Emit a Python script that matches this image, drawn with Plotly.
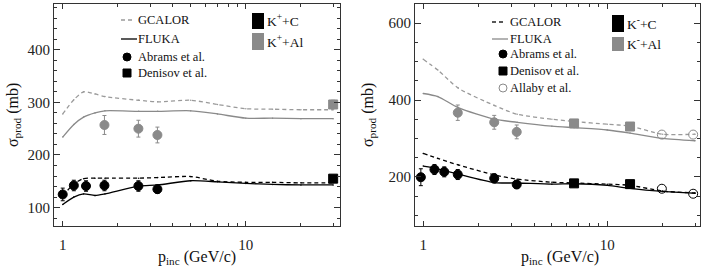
import plotly.graph_objects as go

# ---------------- data: K+ (left panel) ----------------
p_model_kp = [1.0, 1.15, 1.3, 1.5, 1.7, 2.6, 3.3, 5.0, 7.0, 10.0, 14.0, 20.0, 30.0]
gcalor_kp_c = [122, 145, 155, 156, 156, 156, 157, 159, 150, 148, 148, 147, 147]
fluka_kp_c = [106, 120, 126, 123, 126, 141, 143, 151, 149, 146, 144, 143, 143]
gcalor_kp_al = [278, 305, 320, 316, 311, 304, 301, 304, 296, 288, 287, 286, 286]
fluka_kp_al = [234, 258, 272, 280, 284, 283, 283, 284, 278, 270, 270, 269, 269]

abrams_kp_p = [1.0, 1.15, 1.34, 1.69, 2.59, 3.29]
abrams_kp_c = [125, 142, 141, 142, 141, 135]
abrams_kp_c_err = [12, 10, 10, 10, 10, 8]
abrams_kp_al_p = [1.69, 2.59, 3.29]
abrams_kp_al = [257, 250, 238]
abrams_kp_al_err = [18, 16, 15]
denisov_kp_p = [30.0]
denisov_kp_c = [155]
denisov_kp_c_err = [5]
denisov_kp_al = [296]
denisov_kp_al_err = [8]

# ---------------- data: K- (right panel) ----------------
p_model_km = [1.0, 1.2, 1.55, 2.43, 3.24, 5.0, 6.6, 10.0, 13.3, 20.0, 30.0]
gcalor_km_al = [506, 478, 431, 386, 363, 350, 344, 337, 332, 311, 311]
fluka_km_al = [417, 409, 380, 350, 342, 332, 328, 322, 314, 300, 294]
gcalor_km_c = [261, 248, 231, 205, 194, 186, 184, 181, 178, 163, 158]
fluka_km_c = [228, 221, 207, 185, 184, 181, 182, 178, 170, 162, 157]

abrams_km_p = [0.97, 1.15, 1.30, 1.54, 2.43, 3.22]
abrams_km_c = [199, 219, 213, 206, 196, 180]
abrams_km_c_err = [22, 13, 13, 13, 12, 10]
abrams_km_al_p = [1.54, 2.43, 3.22]
abrams_km_al = [367, 342, 317]
abrams_km_al_err = [20, 18, 18]
denisov_km_p = [6.6, 13.3]
denisov_km_c = [183, 181]
denisov_km_al = [339, 331]
allaby_km_p = [19.8, 29.3]
allaby_km_c = [169, 156]
allaby_km_al = [310, 310]

BLACK = "#000000"
GREY = "#8a8a8a"
LGREY = "#9a9a9a"
FONT = "'Liberation Serif', 'Times New Roman', Times, serif"
DASH = "4px,3px"

fig = go.Figure()


def model(x, y, color, dash, xa, ya, width=1.3):
    fig.add_trace(go.Scatter(
        x=x, y=y, mode="lines+markers", xaxis=xa, yaxis=ya,
        line=dict(color=color, width=width, dash=dash, shape="spline", smoothing=0.7),
        marker=dict(size=1.5, color=color), showlegend=False, hoverinfo="skip"))


def data(x, y, err, color, symbol, xa, ya, size=9):
    fig.add_trace(go.Scatter(
        x=x, y=y, mode="markers", xaxis=xa, yaxis=ya,
        marker=dict(size=size, color=color, symbol=symbol, line=dict(width=1, color=color)),
        error_y=dict(type="data", array=err, visible=err is not None, color=color,
                     thickness=1, width=2),
        showlegend=False))


# left panel
model(p_model_kp, gcalor_kp_al, LGREY, DASH, "x", "y")
model(p_model_kp, fluka_kp_al, GREY, "solid", "x", "y")
model(p_model_kp, gcalor_kp_c, BLACK, DASH, "x", "y")
model(p_model_kp, fluka_kp_c, BLACK, "solid", "x", "y")
data(abrams_kp_p, abrams_kp_c, abrams_kp_c_err, BLACK, "circle", "x", "y")
data(abrams_kp_al_p, abrams_kp_al, abrams_kp_al_err, GREY, "circle", "x", "y")
data(denisov_kp_p, denisov_kp_c, denisov_kp_c_err, BLACK, "square", "x", "y")
data(denisov_kp_p, denisov_kp_al, denisov_kp_al_err, GREY, "square", "x", "y")

# right panel
model(p_model_km, gcalor_km_al, LGREY, DASH, "x2", "y2")
model(p_model_km, fluka_km_al, GREY, "solid", "x2", "y2")
model(p_model_km, gcalor_km_c, BLACK, DASH, "x2", "y2")
model(p_model_km, fluka_km_c, BLACK, "solid", "x2", "y2")
data(abrams_km_p, abrams_km_c, abrams_km_c_err, BLACK, "circle", "x2", "y2")
data(abrams_km_al_p, abrams_km_al, abrams_km_al_err, GREY, "circle", "x2", "y2")
data(denisov_km_p, denisov_km_c, None, BLACK, "square", "x2", "y2")
data(denisov_km_p, denisov_km_al, None, GREY, "square", "x2", "y2")
data(allaby_km_p, allaby_km_c, None, BLACK, "circle-open", "x2", "y2")
data(allaby_km_p, allaby_km_al, None, GREY, "circle-open", "x2", "y2")

# ---------------- layout ----------------
W, H = 705, 273
YT, YB = 4, 226
LX0, LX1 = 54, 340
RX0, RX1 = 415, 700
dom_y = [1 - YB / H, 1 - YT / H]

minor_x = [2, 3, 4, 5, 6, 7, 8, 9, 20, 30]
axcol = "#333333"


def xaxis(x0, x1, rng, anchor):
    return dict(domain=[x0 / W, x1 / W], type="log", range=rng, anchor=anchor,
                tickmode="array", tickvals=[1, 10], ticktext=["1", "10"],
                ticks="inside", ticklen=5, tickcolor=axcol, mirror="allticks",
                ticklabelstandoff=5,
                showline=True, linecolor=axcol, linewidth=1, showgrid=False,
                zeroline=False, tickfont=dict(family=FONT, size=15, color="#222"),
                minor=dict(tickmode="array", tickvals=minor_x, ticks="inside",
                           ticklen=3, tickcolor=axcol, showgrid=False))


def yaxis(rng, dtick, mdt, anchor):
    return dict(domain=dom_y, range=rng, anchor=anchor, dtick=dtick, tick0=0,
                ticks="inside", ticklen=6, tickcolor=axcol, mirror="allticks",
                showline=True, linecolor=axcol, linewidth=1, showgrid=False,
                zeroline=False, tickfont=dict(family=FONT, size=15, color="#222"),
                minor=dict(dtick=mdt, tick0=0, ticks="inside", ticklen=3,
                           tickcolor=axcol, showgrid=False))


fig.update_layout(
    width=W, height=H, margin=dict(l=0, r=0, t=0, b=0),
    paper_bgcolor="white", plot_bgcolor="white", showlegend=False,
    font=dict(family=FONT),
    xaxis=xaxis(LX0, LX1, [-0.0477, 1.5145], "y"),
    yaxis=yaxis([65, 487], 100, 20, "x"),
    xaxis2=xaxis(RX0, RX1, [-0.045, 1.504], "y2"),
    yaxis2=yaxis([72, 650], 200, 50, "x2"),
)

shapes = []
annots = []


def px2dom(px, py, x0, x1):
    return (px - x0) / (x1 - x0), (YB - py) / (YB - YT)


def legend(panel, items, boxes):
    x0, x1 = (LX0, LX1) if panel == 1 else (RX0, RX1)
    xr = "x domain" if panel == 1 else "x2 domain"
    yr = "y domain" if panel == 1 else "y2 domain"
    for kind, label, color, cx, cy, tx in items:
        if kind in ("dash", "solid"):
            a, b = px2dom(cx[0], cy, x0, x1)
            c, _ = px2dom(cx[1], cy, x0, x1)
            shapes.append(dict(type="line", xref=xr, yref=yr, x0=a, x1=c, y0=b, y1=b,
                               line=dict(color=color, width=1.3, dash=DASH if kind == "dash" else "solid")))
        else:
            r = 4
            a, b = px2dom(cx - r, cy + r, x0, x1)
            c, d = px2dom(cx + r, cy - r, x0, x1)
            shapes.append(dict(type="circle" if kind != "square" else "rect", xref=xr, yref=yr,
                               x0=a, x1=c, y0=b, y1=d,
                               fillcolor=None if kind == "open" else color,
                               line=dict(color=color, width=1)))
        tx_, ty_ = px2dom(tx, cy, x0, x1)
        annots.append(dict(xref=xr, yref=yr, x=tx_, y=ty_, text=label, showarrow=False,
                           xanchor="left", yanchor="middle",
                           font=dict(family=FONT, size=12.5, color="#111")))
    for label, color, bx0, bx1, by0, by1 in boxes:
        a, b = px2dom(bx0, by1, x0, x1)
        c, d = px2dom(bx1, by0, x0, x1)
        shapes.append(dict(type="rect", xref=xr, yref=yr, x0=a, x1=c, y0=b, y1=d,
                           fillcolor=color, line=dict(width=0)))
        tx_, ty_ = px2dom(bx1 + 1, (by0 + by1) / 2, x0, x1)
        annots.append(dict(xref=xr, yref=yr, x=tx_, y=ty_, text=label, showarrow=False,
                           xanchor="left", yanchor="middle",
                           font=dict(family=FONT, size=13.5, color="#111")))


legend(1, [
    ("dash", "GCALOR", LGREY, (121, 134), 20, 136),
    ("solid", "FLUKA", BLACK, (121, 137), 39, 136),
    ("circle", "Abrams et al.", BLACK, 127, 57, 136),
    ("square", "Denisov et al.", BLACK, 127, 73, 136),
], [
    ("K<sup>+</sup>+C", BLACK, 252, 264, 13, 29),
    ("K<sup>+</sup>+Al", GREY, 252, 264, 33, 50),
])

legend(2, [
    ("dash", "GCALOR", "#222", (492, 505), 22, 508),
    ("solid", "FLUKA", GREY, (492, 508), 39, 508),
    ("circle", "Abrams et al.", BLACK, 503, 54, 508),
    ("square", "Denisov et al.", BLACK, 503, 71, 508),
    ("open", "Allaby et al.", GREY, 503, 88, 508),
], [
    ("K<sup>-</sup>+C", BLACK, 612, 624, 15, 32),
    ("K<sup>-</sup>+Al", GREY, 612, 624, 37, 51),
])

# axis titles
for cx in (13, 368):
    annots.append(dict(xref="paper", yref="paper", x=cx / W, y=1 - 115 / H,
                       text="σ<sub>prod</sub> (mb)", textangle=-90, showarrow=False,
                       xanchor="center", yanchor="middle",
                       font=dict(family=FONT, size=16, color="#111")))
for cx in (197, 560):
    annots.append(dict(xref="paper", yref="paper", x=cx / W, y=1 - 257 / H,
                       text="p<sub>inc</sub> (GeV/c)", showarrow=False,
                       xanchor="center", yanchor="middle",
                       font=dict(family=FONT, size=16, color="#111")))

fig.update_layout(shapes=shapes, annotations=annots)
fig.write_html("out.html", config={"displayModeBar": False},
               post_script="document.body.style.margin='0';document.body.style.padding='0';")
